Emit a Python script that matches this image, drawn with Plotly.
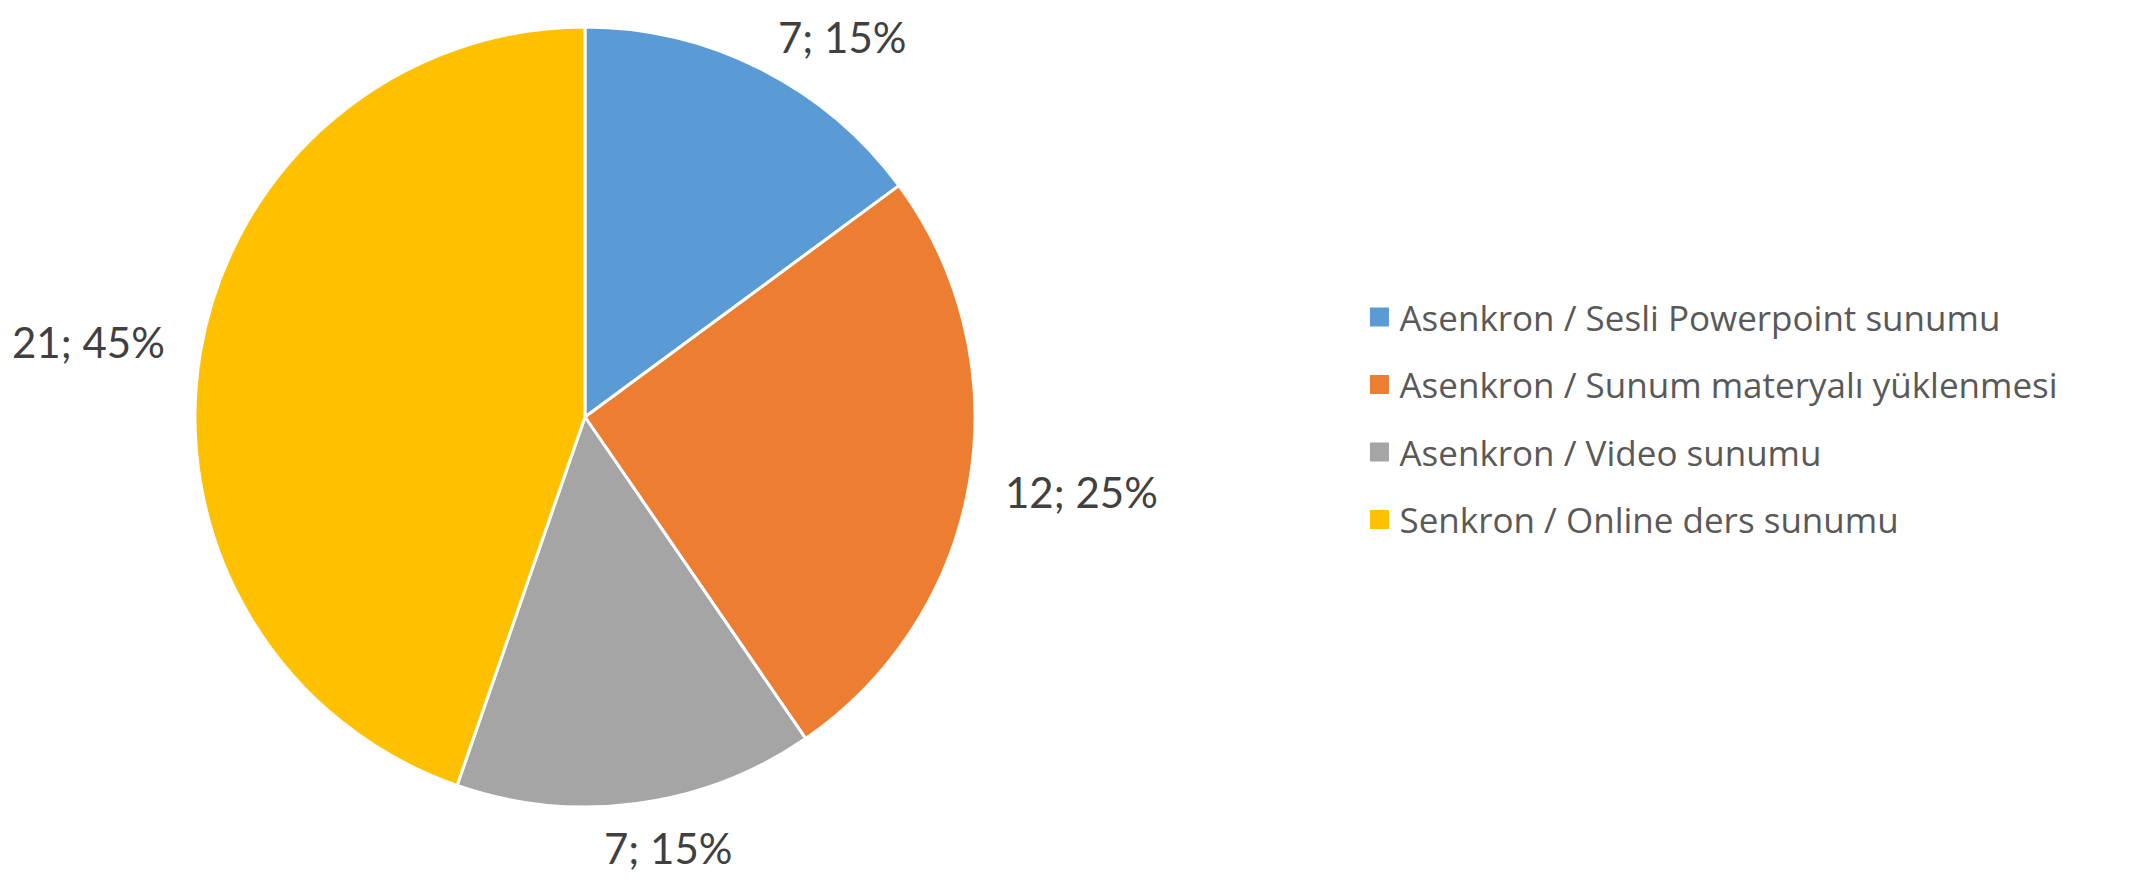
import math

import plotly.graph_objects as go

categories = [
    "Asenkron / Sesli Powerpoint sunumu",
    "Asenkron / Sunum materyalı yüklenmesi",
    "Asenkron / Video sunumu",
    "Senkron / Online ders sunumu",
]
counts = [7, 12, 7, 21]
shares = [15, 25, 15, 45]
colors = ["#5B9BD5", "#ED7D31", "#A5A5A5", "#FFC000"]

LABEL_FONT = "Lato"
LEGEND_FONT = "Open Sans"

# the page body has an 8px margin, so the figure is sized to fill the rest
W, H = 2136, 871

# pie centre and radius in figure pixels
CX, CY, R = 577, 409, 390
dom_x = [(CX - R) / W, (CX + R) / W]
dom_y = [(H - CY - R) / H, (H - CY + R) / H]

fig = go.Figure()
fig.add_trace(
    go.Pie(
        labels=categories,
        values=counts,
        sort=False,
        direction="clockwise",
        rotation=0,
        marker=dict(colors=colors, line=dict(color="white", width=3)),
        textinfo="none",
        hoverinfo="label+value",
        showlegend=False,
        domain=dict(x=dom_x, y=dom_y),
    )
)


def clip(v):
    return max(-1.0, min(1.0, v))


# data labels outside each slice, placed the way Excel does it
total = sum(counts)
cum = 0
for n, s in zip(counts, shares):
    mid = (cum + n / 2) / total * 2 * math.pi
    cum += n
    ux, uy = math.sin(mid), -math.cos(mid)
    text = f"{n}; {s}%"
    hw = 10.7 * len(text)
    lx = CX + 428 * ux + hw * clip(3 * ux)
    ly = CY + 428 * uy + 7 * clip(3 * uy)
    ly = max(ly, 29)  # keep the label box inside the figure
    fig.add_annotation(
        x=lx / W,
        y=1 - ly / H,
        xref="paper",
        yref="paper",
        text=text,
        showarrow=False,
        xanchor="center",
        yanchor="middle",
        font=dict(family=LABEL_FONT, size=42, color="#404040"),
    )

# legend entries drawn as dummy square markers so spacing can match the original
for i, (cat, col) in enumerate(zip(categories, colors)):
    fig.add_trace(
        go.Scatter(
            x=[None],
            y=[None],
            mode="markers",
            marker=dict(symbol="square", size=16, color=col, line=dict(color=col, width=3)),
            name=cat,
            legendgroup=str(i),
        )
    )

fig.update_layout(
    width=W,
    height=H,
    paper_bgcolor="white",
    plot_bgcolor="white",
    margin=dict(l=0, r=0, t=0, b=0),
    xaxis=dict(visible=False),
    yaxis=dict(visible=False),
    showlegend=True,
    legend=dict(
        x=0.6327,
        xanchor="left",
        y=0.529,
        yanchor="middle",
        font=dict(family=LEGEND_FONT, size=35, color="#595959"),
        itemsizing="trace",
        tracegroupgap=19,
        bgcolor="rgba(0,0,0,0)",
    ),
)

fig.write_html("out.html")
